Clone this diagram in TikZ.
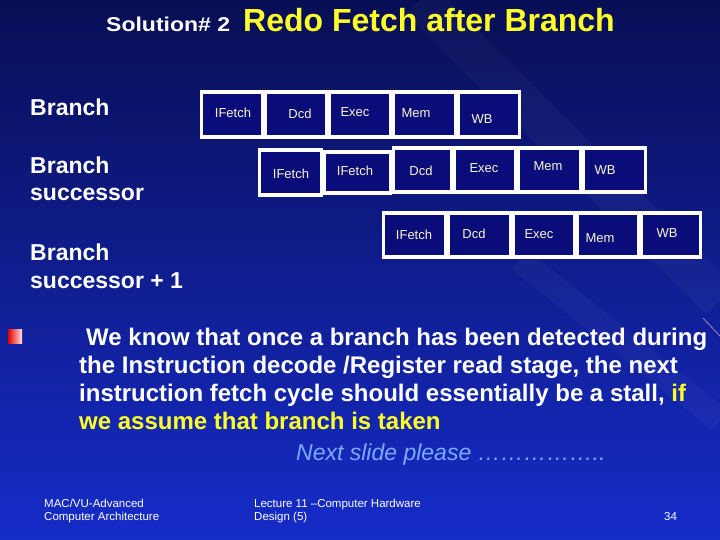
\documentclass[tikz,border=0pt]{standalone}
\usepackage{fontspec}
\usepackage{graphicx}
\setmainfont{Liberation Sans}
\usetikzlibrary{positioning}
\definecolor{slidetop}{RGB}{8,14,84}
\definecolor{slidemid}{RGB}{14,26,150}
\definecolor{slidebot}{RGB}{22,44,200}
\definecolor{stagefill}{RGB}{10,12,122}
\definecolor{stagetext}{RGB}{250,246,205}
\definecolor{hiyellow}{RGB}{255,255,40}
\definecolor{nextblue}{RGB}{125,170,255}

\begin{document}
\begin{tikzpicture}[x=1pt,y=-1pt,
    stage/.style={draw=white, line width=3.2pt, fill=stagefill, inner sep=0pt},
    stagelbl/.style={text=stagetext, font=\fontsize{13}{15}\selectfont, inner sep=0pt},
    rowlbl/.style={text=white, font=\bfseries\fontsize{23}{28}\selectfont, align=left, anchor=base west, inner sep=0pt},
    foot/.style={text=white, font=\fontsize{11.5}{13}\selectfont, align=left, anchor=base west, inner sep=0pt}]
    % --- BACKGROUND ---
    \useasboundingbox (0,0) rectangle (720,540);
    \shade[top color=slidetop, middle color=slidemid, bottom color=slidebot] (0,0) rectangle (720,540);
    \draw[white, opacity=0.03, line width=40pt] (420,0) -- (720,300);
    \draw[white, opacity=0.03, line width=25pt] (520,260) -- (720,420);
    \draw[violet!40!white, opacity=0.8, line width=0.8pt] (703,318) -- (720,336);

    % --- TITLE ---
    \node[anchor=base west, inner sep=0pt, text=white, font=\bfseries\fontsize{20}{24}\selectfont] (sol) at (106,32) {\scalebox{1.15}[1]{Solution\# 2}};
    \node[anchor=base west, inner sep=0pt, text=hiyellow, font=\bfseries\fontsize{32}{36}\selectfont] (ttl) at (243,32) {Redo Fetch after Branch};

    % --- ROW LABELS (base = last line) ---
    \node[rowlbl] (br) at (30,116) {Branch};
    \node[rowlbl] (brs) at (30,201) {Branch\\successor};
    \node[rowlbl] (brsa) at (30,288) {Branch\\successor + 1};

    % --- PIPELINE STAGES ---
    \foreach \nm/\cx/\cy/\w/\h/\tx/\ty/\txt in {
        a1/232/114.5/64/45/233/113/IFetch, a2/296/114.5/64/45/300/114/Dcd,
        a3/360/114.5/64/45/355/112/Exec, a4/424.5/114.5/65/45/416/113/Mem,
        a5/489/114.5/64/45/482/119/WB,
        b1/290.5/172.5/65/45/291/174/IFetch, b2/357.5/172.5/69/41/355/171/IFetch,
        b3/422.5/170/61/44/421/171/Dcd, b4/485/170/64/44/484/168/Exec,
        b5/549.5/170/65/44/548/166/Mem, b6/614.5/170/65/44/605/170/WB,
        c1/414.5/235/65/44/414/235/IFetch, c2/479.5/235/65/44/474/234/Dcd,
        c3/544/235/64/44/539/234/Exec, c4/608/235/64/44/600/238/Mem,
        c5/671/235/62/44/667/233/WB}
    {
        \node[stage, minimum width=\w-2.6, minimum height=\h] (\nm) at (\cx,\cy) {};
        \node[stagelbl] (t\nm) at (\tx,\ty) {\txt};
    }

    % --- BULLET TEXT ---
    \node[shade, left color=red!90!black, right color=pink!50!white, minimum width=14, minimum height=14, inner sep=0pt] (bul) at (15,336) {};
    \node[anchor=base west, inner sep=0pt, text=white, align=left, font=\bfseries\fontsize{24}{28}\selectfont] (body) at (79,429)
        {\hspace{7pt}We know that once a branch has been detected during\\
         the Instruction decode /Register read stage, the next\\
         instruction fetch cycle should essentially be a stall, \textcolor{hiyellow}{if}\\
         \textcolor{hiyellow}{we assume that branch is taken}};
    \node[anchor=base west, inner sep=0pt, text=nextblue, font=\itshape\fontsize{23}{28}\selectfont] (next) at (296,460) {Next slide please ……………..};

    % --- FOOTER ---
    \node[foot] (f1) at (44,520) {MAC/VU-Advanced\\Computer Architecture};
    \node[foot] (f2) at (254,520) {Lecture 11 –Computer Hardware\\Design (5)};
    \node[foot] (f3) at (664,520) {34};
\end{tikzpicture}
\end{document}
